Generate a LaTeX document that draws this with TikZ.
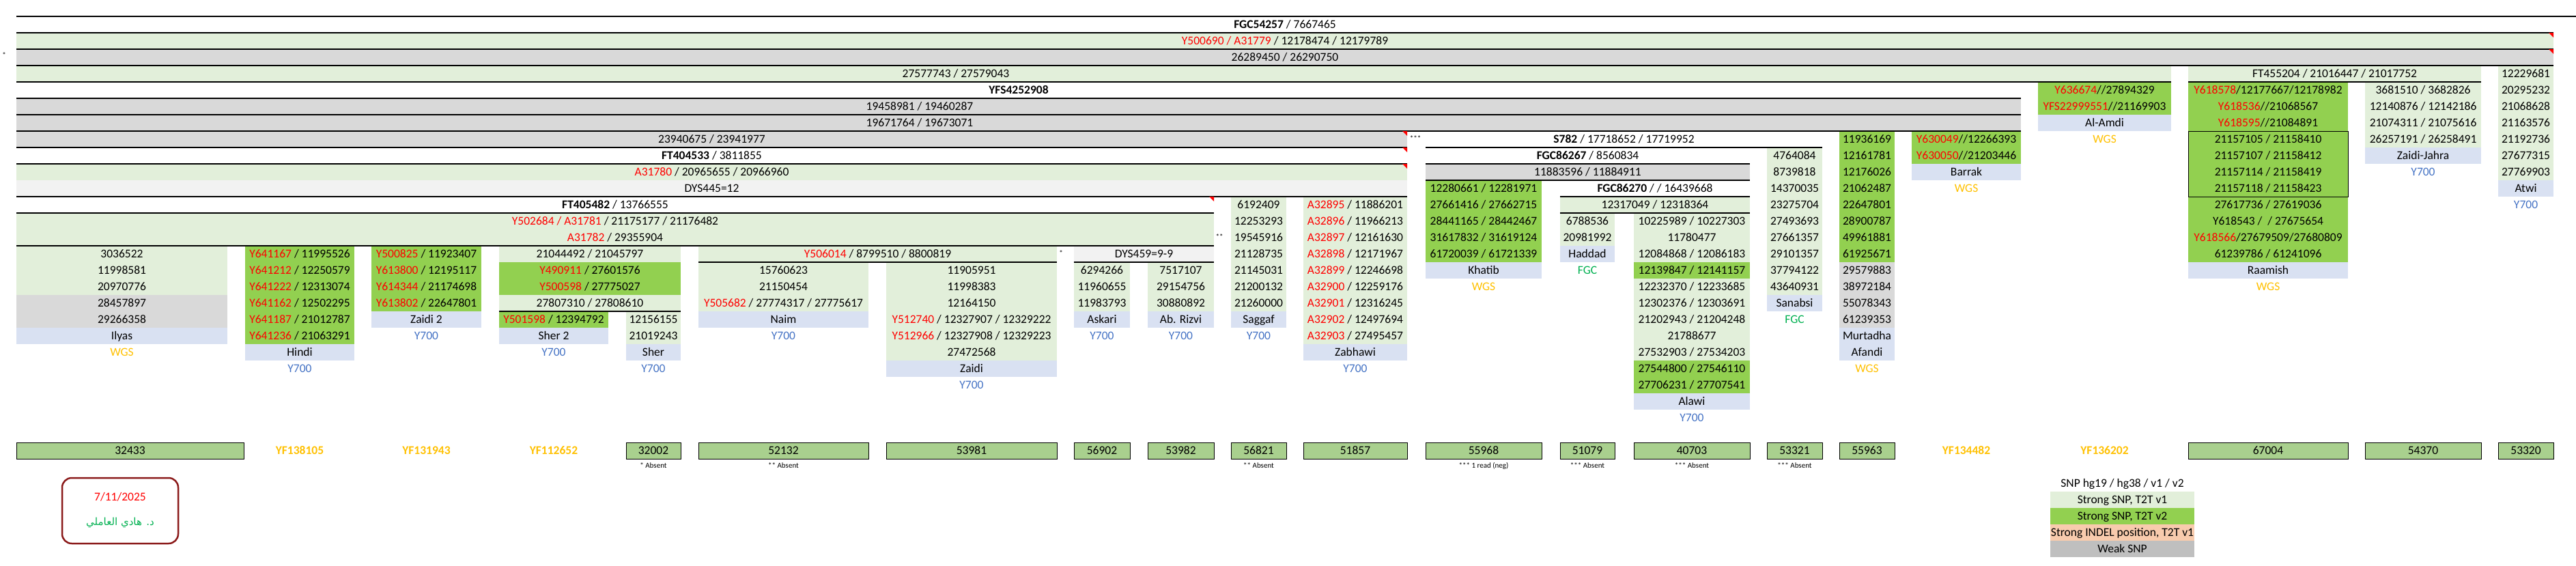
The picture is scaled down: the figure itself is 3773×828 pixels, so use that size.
\documentclass[tikz,border=0pt]{standalone}
\usepackage{fontspec}
\setmainfont{Carlito}
\newfontfamily\arabicfont[Script=Arabic]{DejaVu Sans}
\TeXXeTstate=1
\usetikzlibrary{positioning}

\definecolor{sftgreen}{HTML}{E2EFDA}
\definecolor{snpgreen}{HTML}{92D050}
\definecolor{weakgrey}{HTML}{D9D9D9}
\definecolor{palegrey}{HTML}{F2F2F2}
\definecolor{namelav}{HTML}{D9E1F2}
\definecolor{wgsorange}{HTML}{FFC000}
\definecolor{yblue}{HTML}{4472C4}
\definecolor{fgcgreen}{HTML}{00B050}
\definecolor{snpred}{HTML}{FF0000}
\definecolor{cladegreen}{HTML}{A9D08E}
\definecolor{indelpeach}{HTML}{F8CBAD}
\definecolor{legendgrey}{HTML}{BFBFBF}
\definecolor{datered}{HTML}{8B1A1A}

\newcommand{\rd}[1]{\textcolor{snpred}{#1}}
\newcommand{\cellfont}{\fontsize{17.5}{20}\selectfont}
\newcommand{\notefont}{\fontsize{11}{13}\selectfont}
% one column of cells, row by row
\newcommand{\cellstack}[6]{%
  \foreach \t [count=\i from 0] in {#6}{%
    \node[cell, #5, minimum width={(#3-#2)*1pt}] (#1-\i) at ({(#2+#3)/2},{36+24*(#4+\i)}) {\t};
  }%
}

\begin{document}
\begin{tikzpicture}[
    x=1pt, y=-1pt,
    cell/.style={inner sep=0pt, outer sep=0pt, minimum height=24pt, text height=11.2pt, text depth=0pt, font=\cellfont},
    sft/.style={fill=sftgreen},
    snp/.style={fill=snpgreen},
    weak/.style={fill=weakgrey},
    pale/.style={fill=palegrey},
    namebox/.style={fill=namelav},
    wgstag/.style={text=wgsorange},
    ytag/.style={text=yblue},
    fgctag/.style={text=fgcgreen},
    clade/.style={cell, fill=cladegreen, draw=black, line width=0.8pt},
    cladetag/.style={cell, text=wgsorange, font=\cellfont\bfseries},
    rule/.style={line width=1.3pt},
    note/.style={inner sep=0pt, font=\notefont}
]
\useasboundingbox (0,0) rectangle (3773,828);

% Trunk rows
\node[cell, minimum width=3716pt] (fgc54257) at (1882,36) {\textbf{FGC54257} / 7667465};
\node[cell, sft, minimum width=3716pt] (y500690) at (1882,60) {\rd{Y500690 / A31779} / 12178474 / 12179789};
\node[cell, weak, minimum width=3716pt] (bar26289450) at (1882,84) {26289450 / 26290750};
\node[cell, sft, minimum width=3156pt] (bar27577743) at (1602,108) {};
\node[cell] (txt27577743) at (1400,108) {27577743 / 27579043};
\node[cell, minimum width=2936pt] (yfs4252908) at (1492,132) {\textbf{YFS4252908}};
\node[cell, weak, minimum width=2936pt] (bar19458981) at (1492,156) {};
\node[cell] (txt19458981) at (1347,156) {19458981 / 19460287};
\node[cell, weak, minimum width=2936pt] (bar19671764) at (1492,180) {};
\node[cell] (txt19671764) at (1347,180) {19671764 / 19673071};
\node[cell, weak, minimum width=2037pt] (bar23940675) at (1042.5,204) {23940675 / 23941977};
\node[cell, minimum width=2037pt] (ft404533) at (1042.5,228) {\textbf{FT404533} / 3811855};
\node[cell, sft, minimum width=2037pt] (a31780) at (1042.5,252) {\rd{A31780} / 20965655 / 20966960};
\node[cell, pale, minimum width=2037pt] (dys445) at (1042.5,276) {DYS445=12};
\node[cell, minimum width=1754pt] (ft405482) at (901,300) {\textbf{FT405482} / 13766555};
\node[cell, sft, minimum width=1754pt, minimum height=48pt] (y502684) at (901,336) {};
\node[cell] (txtY502684) at (901,324) {\rd{Y502684 / A31781} / 21175177 / 21176482};
\node[cell] (txtA31782) at (901,348) {\rd{A31782} / 29355904};

% Branch rows
\node[cell, minimum width=581pt] (s782) at (2378.5,204) {\textbf{S782} / 17718652 / 17719952};
\node[cell, minimum width=475pt] (fgc86267) at (2325.5,228) {\textbf{FGC86267} / 8560834};
\node[cell, weak, minimum width=475pt] (bar11883596) at (2325.5,252) {11883596 / 11884911};
\node[cell, minimum width=278pt] (fgc86270) at (2424,276) {\textbf{FGC86270} / / 16439668};
\node[cell, sft, minimum width=278pt] (bar12317049) at (2424,300) {12317049 / 12318364};
\node[cell, sft, minimum width=429pt] (ft455204) at (3419.5,108) {FT455204 / 21016447 / 21017752};
\node[cell, sft, minimum width=525pt] (y506014) at (1285.5,372) {\rd{Y506014} / 8799510 / 8800819};
\node[cell, pale, minimum width=205pt] (dys459) at (1675.5,372) {DYS459=9-9};

% Ilyas
\cellstack{ilyas}{24}{333}{14}{sft}{3036522, 11998581, 20970776}
\cellstack{ilyasw}{24}{333}{17}{weak}{28457897, 29266358}
\cellstack{ilyasn}{24}{333}{19}{namebox}{Ilyas}
\cellstack{ilyast}{24}{333}{20}{wgstag}{WGS}
% Hindi
\cellstack{hindi}{359}{519}{14}{snp}{\rd{Y641167} / 11995526, \rd{Y641212} / 12250579, \rd{Y641222} / 12313074,
  \rd{Y641162} / 12502295, \rd{Y641187} / 21012787, \rd{Y641236} / 21063291}
\cellstack{hindin}{359}{519}{20}{namebox}{Hindi}
\cellstack{hindit}{359}{519}{21}{ytag}{Y700}
% Zaidi 2
\cellstack{zaiditwo}{544}{705}{14}{snp}{\rd{Y500825} / 11923407, \rd{Y613800} / 12195117, \rd{Y614344} / 21174698, \rd{Y613802} / 22647801}
\cellstack{zaiditwon}{544}{705}{18}{namebox}{Zaidi 2}
\cellstack{zaiditwot}{544}{705}{19}{ytag}{Y700}
% Sher
\cellstack{sherh}{731}{997}{14}{sft}{21044492 / 21045797}
\cellstack{sherg}{731}{997}{15}{snp}{\rd{Y490911} / 27601576, \rd{Y500598} / 27775027}
\cellstack{sherl}{731}{997}{17}{sft}{27807310 / 27808610}
\cellstack{shertwo}{731}{891}{18}{snp}{\rd{Y501598} / 12394792}
\cellstack{shertwon}{731}{891}{19}{namebox}{Sher 2}
\cellstack{shertwot}{731}{891}{20}{ytag}{Y700}
\cellstack{sher}{917}{997}{18}{sft}{12156155, 21019243}
\cellstack{shern}{917}{997}{20}{namebox}{Sher}
\cellstack{shert}{917}{997}{21}{ytag}{Y700}
% Naim
\cellstack{naim}{1023}{1272}{15}{sft}{15760623, 21150454, \rd{Y505682} / 27774317 / 27775617}
\cellstack{naimn}{1023}{1272}{18}{namebox}{Naim}
\cellstack{naimt}{1023}{1272}{19}{ytag}{Y700}
% Zaidi
\cellstack{zaidi}{1298}{1548}{15}{sft}{11905951, 11998383, 12164150, \rd{Y512740} / 12327907 / 12329222,
  \rd{Y512966} / 12327908 / 12329223, 27472568}
\cellstack{zaidin}{1298}{1548}{21}{namebox}{Zaidi}
\cellstack{zaidit}{1298}{1548}{22}{ytag}{Y700}
% Askari, Ab. Rizvi
\cellstack{askari}{1573}{1655}{15}{sft}{6294266, 11960655, 11983793}
\cellstack{askarin}{1573}{1655}{18}{namebox}{Askari}
\cellstack{askarit}{1573}{1655}{19}{ytag}{Y700}
\cellstack{rizvi}{1681}{1778}{15}{sft}{7517107, 29154756, 30880892}
\cellstack{rizvin}{1681}{1778}{18}{namebox}{Ab. Rizvi}
\cellstack{rizvit}{1681}{1778}{19}{ytag}{Y700}
% Saggaf
\cellstack{saggaf}{1803}{1884}{11}{sft}{6192409, 12253293, 19545916, 21128735, 21145031, 21200132, 21260000}
\cellstack{saggafn}{1803}{1884}{18}{namebox}{Saggaf}
\cellstack{saggaft}{1803}{1884}{19}{ytag}{Y700}
% Zabhawi
\cellstack{zabhawi}{1909}{2061}{11}{sft}{\rd{A32895} / 11886201, \rd{A32896} / 11966213, \rd{A32897} / 12161630,
  \rd{A32898} / 12171967, \rd{A32899} / 12246698, \rd{A32900} / 12259176, \rd{A32901} / 12316245,
  \rd{A32902} / 12497694, \rd{A32903} / 27495457}
\cellstack{zabhawin}{1909}{2061}{20}{namebox}{Zabhawi}
\cellstack{zabhawit}{1909}{2061}{21}{ytag}{Y700}
% Khatib
\cellstack{khatib}{2088}{2258}{10}{snp}{12280661 / 12281971, 27661416 / 27662715, 28441165 / 28442467,
  31617832 / 31619124, 61720039 / 61721339}
\cellstack{khatibn}{2088}{2258}{15}{namebox}{Khatib}
\cellstack{khatibt}{2088}{2258}{16}{wgstag}{WGS}
% Haddad
\cellstack{haddad}{2285}{2365}{12}{sft}{6788536, 20981992}
\cellstack{haddadn}{2285}{2365}{14}{namebox}{Haddad}
\cellstack{haddadt}{2285}{2365}{15}{fgctag}{FGC}
% Alawi
\cellstack{alawia}{2393}{2563}{12}{sft}{10225989 / 10227303, 11780477, 12084868 / 12086183}
\cellstack{alawib}{2393}{2563}{15}{snp}{12139847 / 12141157}
\cellstack{alawic}{2393}{2563}{16}{sft}{12232370 / 12233685, 12302376 / 12303691, 21202943 / 21204248,
  21788677, 27532903 / 27534203}
\cellstack{alawid}{2393}{2563}{21}{snp}{27544800 / 27546110, 27706231 / 27707541}
\cellstack{alawin}{2393}{2563}{23}{namebox}{Alawi}
\cellstack{alawit}{2393}{2563}{24}{ytag}{Y700}
% Sanabsi
\cellstack{sanabsi}{2588}{2669}{8}{sft}{4764084, 8739818, 14370035, 23275704, 27493693, 27661357,
  29101357, 37794122, 43640931}
\cellstack{sanabsin}{2588}{2669}{17}{namebox}{Sanabsi}
\cellstack{sanabsit}{2588}{2669}{18}{fgctag}{FGC}
% Murtadha Afandi
\cellstack{murtadha}{2694}{2775}{7}{snp}{11936169, 12161781, 12176026, 21062487, 22647801, 28900787,
  49961881, 61925671}
\cellstack{murtadhaw}{2694}{2775}{15}{weak}{29579883, 38972184, 55078343, 61239353}
\cellstack{murtadhan}{2694}{2775}{19}{namebox}{Murtadha, Afandi}
\cellstack{murtadhat}{2694}{2775}{21}{wgstag}{WGS}
% Barrak
\cellstack{barrak}{2800}{2960}{7}{snp}{\rd{Y630049}//12266393, \rd{Y630050}//21203446}
\cellstack{barrakn}{2800}{2960}{9}{namebox}{Barrak}
\cellstack{barrakt}{2800}{2960}{10}{wgstag}{WGS}
% Al-Amdi
\cellstack{amdi}{2985}{3180}{4}{snp}{\rd{Y636674}//27894329, \rd{YFS22999551}//21169903}
\cellstack{amdin}{2985}{3180}{6}{namebox}{Al-Amdi}
\cellstack{amdit}{2985}{3180}{7}{wgstag}{WGS}
% Raamish
\cellstack{raam}{3205}{3439}{4}{snp}{\rd{Y618578}/12177667/12178982, \rd{Y618536}//21068567, \rd{Y618595}//21084891,
  21157105 / 21158410, 21157107 / 21158412, 21157114 / 21158419, 21157118 / 21158423,
  27617736 / 27619036, Y618543 / \ / 27675654, \rd{Y618566}/27679509/27680809, 61239786 / 61241096}
\cellstack{raamn}{3205}{3439}{15}{namebox}{Raamish}
\cellstack{raamt}{3205}{3439}{16}{wgstag}{WGS}
% Zaidi-Jahra
\cellstack{jahra}{3464}{3634}{4}{sft}{3681510 / 3682826, 12140876 / 12142186, 21074311 / 21075616, 26257191 / 26258491}
\cellstack{jahran}{3464}{3634}{8}{namebox}{Zaidi-Jahra}
\cellstack{jahrat}{3464}{3634}{9}{ytag}{Y700}
% Atwi
\cellstack{atwi}{3659}{3740}{3}{sft}{12229681, 20295232, 21068628, 21163576, 21192736, 27677315, 27769903}
\cellstack{atwin}{3659}{3740}{10}{namebox}{Atwi}
\cellstack{atwit}{3659}{3740}{11}{ytag}{Y700}

% Row borders
\draw[rule] (fgc54257.north west) -- ++(3749,0);
\foreach \n in {fgc54257, y500690, bar26289450, bar27577743, ft455204, yfs4252908, bar19458981,
    bar19671764, bar23940675, ft404533, dys445, ft405482, y502684, s782, fgc86267, bar11883596,
    fgc86270, bar12317049, y506014, dys459, sherl-0}
  \draw[rule] (\n.south west) -- (\n.south east);
\draw[line width=1pt] (raam-3.north west) rectangle (raam-6.south east);

% Comment markers
\foreach \n in {y500690, bar26289450, bar23940675, ft404533, a31780, ft405482}
  \fill[snpred] (\n.north east) -- ++(-7,0) -- ++(7,7) -- cycle;
\node[note] (astA) at (6,81) {*};
\node[note] (astB) at (2073,203) {***};
\node[note] (astC) at (1786,347) {**};
\node[note] (astD) at (1554,371) {*};

% Clades
\foreach \a/\b/\t in {24/357/32433, 917/997/32002, 1023/1272/52132, 1298/1548/53981, 1573/1655/56902,
    1681/1778/53982, 1803/1884/56821, 1909/2061/51857, 2088/2258/55968, 2285/2365/51079,
    2393/2563/40703, 2588/2669/53321, 2694/2775/55963, 3205/3439/67004, 3464/3634/54370, 3659/3740/53320}
  \node[clade, minimum width={(\b-\a)*1pt}] (clade-\t) at ({(\a+\b)/2},660) {\t};
\foreach \a/\b/\t in {359/519/YF138105, 544/705/YF131943, 731/891/YF112652, 2800/2960/YF134482, 2985/3180/YF136202}
  \node[cladetag, minimum width={(\b-\a)*1pt}] (clade-\t) at ({(\a+\b)/2},660) {\t};

\node[note, below=5pt of clade-32002] (note32002) {* Absent};
\node[note, below=5pt of clade-52132] (note52132) {** Absent};
\node[note, below=5pt of clade-56821] (note56821) {** Absent};
\node[note, below=5pt of clade-55968] (note55968) {*** 1 read (neg)};
\node[note, below=5pt of clade-51079] (note51079) {*** Absent};
\node[note, below=5pt of clade-40703] (note40703) {*** Absent};
\node[note, below=5pt of clade-53321] (note53321) {*** Absent};

% Legend
\node[cell, minimum width=211pt] (legsnp) at (3108.5,708) {SNP hg19 / hg38 / v1 / v2};
\node[cell, sft, minimum width=211pt, below=0pt of legsnp] (legv1) {Strong SNP, T2T v1};
\node[cell, snp, minimum width=211pt, below=0pt of legv1] (legv2) {Strong SNP, T2T v2};
\node[cell, fill=indelpeach, minimum width=211pt, below=0pt of legv2] (legindel) {Strong INDEL position, T2T v1};
\node[cell, fill=legendgrey, minimum width=211pt, below=0pt of legindel] (legweak) {Weak SNP};

% Date stamp
\node[draw=datered, line width=2.5pt, rounded corners=14pt, minimum width=170pt, minimum height=96pt] (datebox) at (176,748) {};
\node[cell, text=snpred] (datetext) at (176,728) {7/11/2025};
\node[text=fgcgreen, inner sep=0pt, font=\fontsize{15}{18}\selectfont] (drname) at (176,766) {\arabicfont\beginR د. هادي العاملي\endR};
\end{tikzpicture}
\end{document}
